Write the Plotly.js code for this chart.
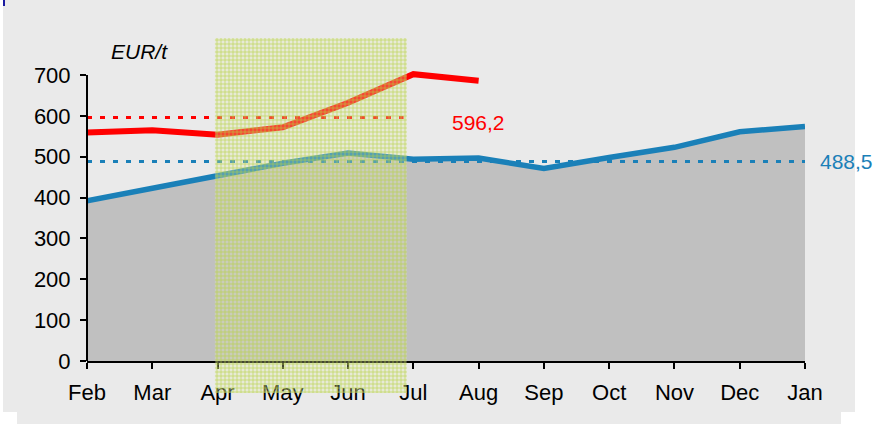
<!DOCTYPE html>
<html>
<head>
<meta charset="utf-8">
<script src="https://cdn.plot.ly/plotly-3.0.1.min.js"></script>
<style>
  html, body { margin: 0; padding: 0; background: #ffffff; width: 877px; height: 424px; overflow: hidden; }
  #bg1 { position: absolute; left: 3px; top: 0px; width: 852px; height: 412px; background: #eaeaea; }
  #bg2 { position: absolute; left: 17px; top: 300px; width: 824px; height: 124px; background: #eaeaea; }
  #mark { position: absolute; left: 3px; top: 0px; width: 2px; height: 6px; background: #1a1aa0; }
  #chart { position: absolute; left: 0; top: 0; width: 877px; height: 424px; }
</style>
</head>
<body>
<div id="bg1"></div>
<div id="bg2"></div>
<div id="mark"></div>
<div id="chart"></div>
<script>
// ---- data ----
const months = ['Feb','Mar','Apr','May','Jun','Jul','Aug','Sep','Oct','Nov','Dec','Jan'];
const blueValues = [392, 423, 454, 484, 509, 494, 497, 471, 498, 523, 561, 574];
const redValues  = [559, 565, 554, 572, 632, 702, 686];
const redAverage = 596.2;
const blueAverage = 488.5;
const redAverageLabel = '596,2';
const blueAverageLabel = '488,5';
const unitLabel = 'EUR/t';
const yTicks = [0, 100, 200, 300, 400, 500, 600, 700];
const highlightStart = 'Apr';
const highlightEnd = 'Jul';

// ---- build ----
const idx = months.map((m, i) => i);
const redIdx = redValues.map((v, i) => i);
const FONT = 'Liberation Sans, Arial, sans-serif';
const BLUE = '#1a80b8';
const RED = '#ff0000';

const hx0 = months.indexOf(highlightStart) - 0.04;
const hx1 = months.indexOf(highlightEnd) - 0.1;

// geometry (px): figure 424 high, margins t=38 b=31 -> 355 px tall drawing zone
const H = 355, BOTTOM = 393;
const axisBottomPx = 361, axisTopPx = 75, plotTopPx = 55;
const yMaxTick = yTicks[yTicks.length - 1];
const yRangeTop = yMaxTick * (axisBottomPx - plotTopPx) / (axisBottomPx - axisTopPx);

const traces = [
  { // grey area under blue line
    x: idx, y: blueValues, type: 'scatter', mode: 'lines',
    fill: 'tozeroy', fillcolor: '#c0c0c0',
    line: { color: 'rgba(0,0,0,0)', width: 0 }, hoverinfo: 'skip'
  },
  { // blue average (dotted)
    x: [0, months.length - 1], y: [blueAverage, blueAverage], type: 'scatter', mode: 'lines',
    line: { color: BLUE, width: 3, dash: '5px,8px' }
  },
  { // red average (dotted)
    x: [0, months.indexOf(highlightEnd) - 0.15], y: [redAverage, redAverage], type: 'scatter', mode: 'lines',
    line: { color: RED, width: 3, dash: '5px,8px' }
  },
  { // blue series
    x: idx, y: blueValues, type: 'scatter', mode: 'lines',
    line: { color: BLUE, width: 5.5 }
  },
  { // red series
    x: redIdx, y: redValues, type: 'scatter', mode: 'lines',
    line: { color: RED, width: 6 }
  },
  { // highlighted period (hatched box), drawn in an overlay subplot
    x: [(hx0 + hx1) / 2], width: [hx1 - hx0], y: [1], base: [0], type: 'bar',
    xaxis: 'x2', yaxis: 'y2',
    marker: {
      color: 'rgba(0,0,0,0)', line: { width: 0 },
      pattern: { shape: '+', size: 4, solidity: 0.35, fgcolor: 'rgba(180,208,60,0.75)',
                 bgcolor: 'rgba(225,238,170,0.3)', fillmode: 'replace' }
    }
  }
];

const axisCommon = {
  linecolor: '#000', linewidth: 2,
  ticks: 'outside', ticklen: 6, tickwidth: 2, tickcolor: '#000',
  showgrid: false, zeroline: false, fixedrange: true,
  tickfont: { family: FONT, size: 22, color: '#000' }
};

const layout = {
  width: 877, height: 424,
  margin: { l: 87, r: 72, t: 38, b: 31 },
  paper_bgcolor: 'rgba(0,0,0,0)', plot_bgcolor: 'rgba(0,0,0,0)',
  showlegend: false,
  xaxis: Object.assign({}, axisCommon, {
    anchor: 'y', showline: true, range: [0, months.length - 1], tickmode: 'array', tickvals: idx, ticktext: months,
    ticklabelstandoff: 5
  }),
  yaxis: Object.assign({}, axisCommon, {
    anchor: 'x', showline: false,
    domain: [(BOTTOM - axisBottomPx) / H, (BOTTOM - plotTopPx) / H],
    range: [0, yRangeTop], tickmode: 'array', tickvals: yTicks, ticktext: yTicks.map(String),
    ticklabelstandoff: 5
  }),
  xaxis2: { anchor: 'y2', domain: [0, 1], range: [0, months.length - 1], visible: false, fixedrange: true },
  yaxis2: { anchor: 'x2', domain: [0, 1], range: [0, 1], visible: false, fixedrange: true },
  shapes: [{ // y axis line, only up to the top tick
    type: 'line', xref: 'paper', yref: 'y', x0: 0, x1: 0, y0: 0, y1: yMaxTick,
    line: { color: '#000', width: 2 }, layer: 'above'
  }],
  annotations: [
    { text: unitLabel, xref: 'paper', yref: 'paper', x: 0.0738, y: (BOTTOM - 52) / H,
      xanchor: 'center', yanchor: 'middle', showarrow: false,
      font: { family: FONT, size: 21, color: '#000', style: 'italic' } },
    { text: redAverageLabel, xref: 'x', yref: 'y', x: months.indexOf('Aug'), y: redAverage,
      xanchor: 'center', yanchor: 'middle', yshift: -5, showarrow: false,
      font: { family: FONT, size: 21, color: RED } },
    { text: blueAverageLabel, xref: 'paper', yref: 'y', x: 1.018, y: blueAverage,
      xanchor: 'left', yanchor: 'middle', showarrow: false,
      font: { family: FONT, size: 21, color: BLUE } }
  ]
};

Plotly.newPlot('chart', traces, layout, { displayModeBar: false, staticPlot: true });
</script>
</body>
</html>
